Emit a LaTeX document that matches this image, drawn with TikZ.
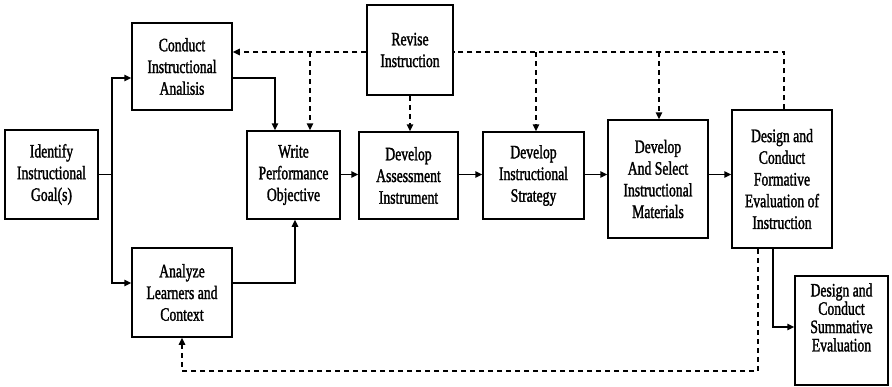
\documentclass[tikz,border=0pt]{standalone}
\usepackage{fontspec}
\usepackage{tikz}
\usetikzlibrary{arrows.meta}
\newfontfamily\boxfont[FakeStretch=0.72,FakeBold=1.5]{Liberation Serif}

\begin{document}
\begin{tikzpicture}[x=1pt,y=-1pt,
    box/.style={draw,line width=1.5pt,fill=white,inner sep=0pt,align=center,
      font={\boxfont\fontsize{19}{21.7}\selectfont}},
    arr/.style={line width=1.5pt,-{Triangle[length=7pt,width=6.5pt]}},
    dline/.style={line width=1.5pt,dash pattern=on 5pt off 4pt},
    darr/.style={dline,-{Triangle[length=7pt,width=6.5pt]}}]
\useasboundingbox (0,0) rectangle (892,386);

% Boxes
\node[box,minimum width=93pt,minimum height=89pt] (goal) at (51.5,174.5) {Identify\\Instructional\\Goal(s)};
\node[box,minimum width=100pt,minimum height=87pt] (cia) at (182,66.5) {Conduct\\Instructional\\Analisis};
\node[box,minimum width=100pt,minimum height=89pt] (alc) at (182,292.5) {Analyze\\Learners and\\Context};
\node[box,minimum width=93pt,minimum height=88pt] (wpo) at (293.5,175) {Write\\Performance\\Objective};
\node[box,minimum width=99pt,minimum height=87pt] (dai) at (408.5,175.5) {Develop\\Assessment\\Instrument};
\node[box,minimum width=86pt,minimum height=90pt] (rev) at (410,50) {Revise\\Instruction};
\node[box,minimum width=101pt,minimum height=87pt] (dis) at (533.5,175.5) {Develop\\Instructional\\Strategy};
\node[box,minimum width=100pt,minimum height=118pt] (dsm) at (658,179) {Develop\\And Select\\Instructional\\Materials};
\node[box,minimum width=100pt,minimum height=138pt] (dcf) at (782,179) {Design and\\Conduct\\Formative\\Evaluation of\\Instruction};
\node[box,minimum width=93pt,minimum height=109pt,
  font={\boxfont\fontsize{19}{18.3}\selectfont}] (dcs) at (841.5,330.5) {Design and\\Conduct\\Summative\\Evaluation\\[8pt]};

% Solid flow
\coordinate (split) at (112,174.5);
\draw[line width=1.5pt] (goal.east) -- (split);
\draw[arr] (split) |- ([yshift=-11.5pt]cia.west);
\draw[arr] (split) |- ([yshift=9.5pt]alc.west);
\draw[arr] ([yshift=-11.5pt]cia.east) -| ([xshift=-18.5pt]wpo.north);
\draw[arr] ([yshift=9.5pt]alc.east) -| ([xshift=1.5pt]wpo.south);
\foreach \a/\b in {wpo/dai,dai/dis,dis/dsm,dsm/dcf} {
    \draw[arr] (\a.east |- goal) -- (\b.west |- goal);
}
\draw[arr] ([xshift=-9pt]dcf.south) |- ([yshift=3.5pt]dcs.west);

% Revision loop
\draw[dline] ([xshift=2pt]dcf.north) |- ([yshift=-2pt]rev.east);
\draw[darr] ([yshift=-2pt]rev.west) -- ([yshift=14.5pt]cia.east);
\foreach \x/\n in {310/wpo,536/dis,659/dsm} {
    \coordinate (j\n) at (\x,52);
    \draw[darr] (j\n) -- (j\n |- \n.north);
}
\draw[darr] (rev.south) -- (rev.south |- dai.north);
\draw[darr] ([xshift=-24pt]dcf.south) -- ++(0,122) -| (alc.south);
\end{tikzpicture}
\end{document}
